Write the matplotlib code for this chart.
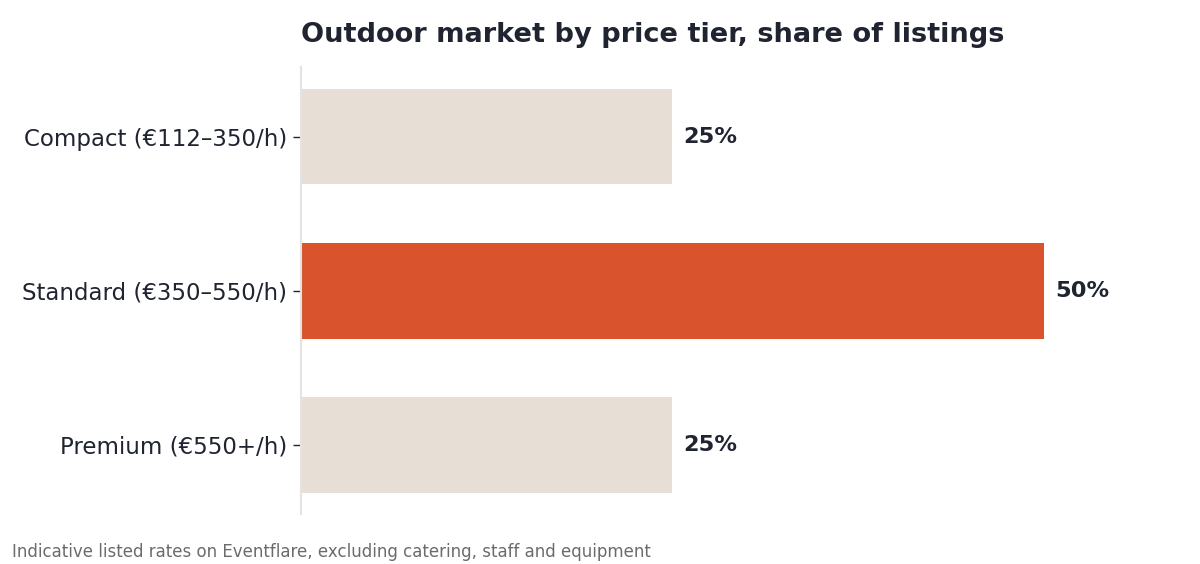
import matplotlib
matplotlib.use("Agg")
import matplotlib.pyplot as plt

categories = ["Compact (€112–350/h)", "Standard (€350–550/h)", "Premium (€550+/h)"]
shares = [25, 50, 25]
highlight = "Standard (€350–550/h)"
title = "Outdoor market by price tier, share of listings"
footnote = "Indicative listed rates on Eventflare, excluding catering, staff and equipment"

TEXT = "#1f2430"
fig = plt.figure(figsize=(12, 5.64), dpi=100)
ax = fig.add_axes([0.251, 0.088, 0.74, 0.793])

colors = ["#d9532c" if c == highlight else "#e7ded5" for c in categories]
ypos = list(range(len(categories)))
bars = ax.barh(ypos, shares, height=0.62, color=colors)
ax.set_yticks(ypos)
ax.set_yticklabels(categories, fontsize=16.5, color=TEXT)
ax.set_ylim(2.45, -0.45)
ax.set_xlim(0, 59.8)
ax.xaxis.set_visible(False)
for s in ["top", "right", "bottom"]:
    ax.spines[s].set_visible(False)
ax.spines["left"].set_color("#e3e3e3")
ax.spines["left"].set_linewidth(1.5)
ax.tick_params(axis="y", length=6, width=1, color=TEXT, pad=4)

for b, v in zip(bars, shares):
    ax.text(b.get_width() + 0.75, b.get_y() + b.get_height() / 2, f"{v}%",
            va="center", ha="left", fontsize=16.2, fontweight="bold", color=TEXT)

ax.set_title(title, loc="left", fontsize=19.6, fontweight="bold", color=TEXT, pad=18)
fig.text(0.01, 0.005, footnote, fontsize=12, color="#6b6b6b", ha="left", va="bottom")

fig.savefig("out.png", dpi=100)
